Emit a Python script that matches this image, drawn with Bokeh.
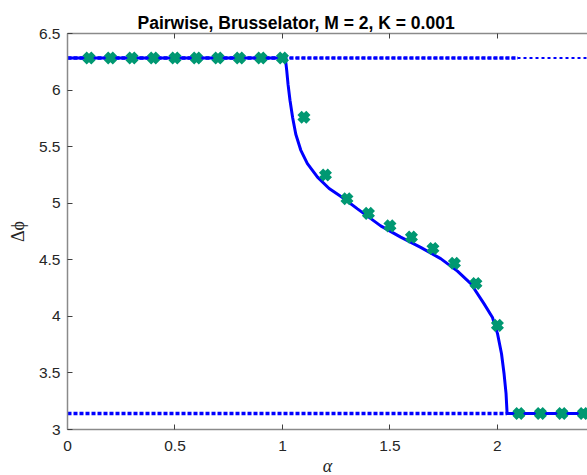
from bokeh.plotting import figure
from bokeh.models import Range1d, LinearAxis, FixedTicker
from bokeh.embed import file_html
from bokeh.resources import INLINE

# ---------------- data ----------------
title_text = "Pairwise, Brusselator, M = 2, K = 0.001"

x_ticks = [0, 0.5, 1, 1.5, 2]
x_tick_labels = ["0", "0.5", "1", "1.5", "2"]
y_ticks = [3, 3.5, 4, 4.5, 5, 5.5, 6, 6.5]
y_tick_labels = ["3", "3.5", "4", "4.5", "5", "5.5", "6", "6.5"]

# simulation points (green crosses)
sim_alpha = [0.1, 0.2, 0.3, 0.4, 0.5, 0.6, 0.7, 0.8, 0.9, 1.0,
             1.1, 1.2, 1.3, 1.4, 1.5, 1.6, 1.7, 1.8, 1.9, 2.0,
             2.1, 2.2, 2.3, 2.4]
sim_dphi = [6.283, 6.283, 6.283, 6.283, 6.283, 6.283, 6.283, 6.283, 6.283, 6.283,
            5.76, 5.25, 5.04, 4.91, 4.80, 4.70, 4.60, 4.47, 4.29, 3.92,
            3.142, 3.142, 3.142, 3.142]

# stable branch (solid)
stable_alpha = [0.0, 1.013, 1.017, 1.020, 1.026, 1.035, 1.047, 1.062, 1.085, 1.116,
                1.163, 1.217, 1.279, 1.349, 1.457, 1.550, 1.643, 1.736, 1.814, 1.876,
                1.938, 1.977, 2.000, 2.019, 2.031, 2.040, 2.045, 2.5]
stable_dphi = [6.283, 6.283, 6.22, 6.17, 6.05, 5.91, 5.76, 5.61, 5.47, 5.35,
               5.23, 5.13, 5.05, 4.95, 4.80, 4.70, 4.61, 4.51, 4.40, 4.29,
               4.11, 3.99, 3.85, 3.67, 3.49, 3.32, 3.142, 3.142]

# unstable branches (dotted)
anti_alpha_a = [0.0, 2.095]
anti_dphi_a = [6.283, 6.283]
anti_alpha_b = [0.0, 2.5]
anti_dphi_b = [6.283, 6.283]
inph_alpha = [0.0, 2.045]
inph_dphi = [3.142, 3.142]

# ---------------- figure ----------------
p = figure(frame_width=520, frame_height=396, output_backend="svg", toolbar_location=None,
           x_range=Range1d(0, 2.419), y_range=Range1d(3, 6.5),
           min_border_left=67, min_border_right=0, min_border_top=33,
           min_border_bottom=30, x_axis_location=None, y_axis_location=None)
p.grid.visible = False
p.outline_line_color = None
p.background_fill_color = "white"
p.border_fill_color = "white"

p.title.text = title_text
p.title.text_font = "Liberation Sans"
p.title.text_font_size = "17.5px"
p.title.text_font_style = "bold"
p.title.text_color = "#000000"
p.title.align = "left"
p.title.offset = 70
p.title.standoff = 2

BLUE = "#0000ff"
GREEN = "#009872"

p.line(anti_alpha_b, anti_dphi_b, line_color=BLUE, line_width=2, line_dash="3 3")
p.line(anti_alpha_a, anti_dphi_a, line_color=BLUE, line_width=3.5, line_dash="4 2")
p.line(inph_alpha, inph_dphi, line_color=BLUE, line_width=3.5, line_dash="4 2")
p.line(stable_alpha, stable_dphi, line_color=BLUE, line_width=3)
p.scatter(sim_alpha, sim_dphi, marker="x", size=12.5, line_width=6, line_color=GREEN)


def style_axis(ax):
    ax.axis_line_color = "#8a8a8a"
    ax.axis_line_width = 1.5
    ax.major_tick_line_color = "#404040"
    ax.major_tick_in = 5
    ax.major_tick_out = 0
    ax.minor_tick_line_color = None
    ax.major_label_text_font = "Liberation Sans"
    ax.major_label_text_font_size = "15.5px"
    ax.major_label_text_color = "#262626"
    ax.axis_label_text_font = "Liberation Serif"
    ax.axis_label_text_font_style = "italic"
    ax.axis_label_text_font_size = "18px"
    ax.axis_label_text_color = "#262626"


xb = LinearAxis(ticker=FixedTicker(ticks=x_ticks),
                major_label_overrides=dict(zip(x_ticks, x_tick_labels)),
                axis_label="α")
style_axis(xb)
xb.major_label_standoff = 11
xb.axis_label_standoff = 2
p.add_layout(xb, "below")

xt = LinearAxis(ticker=FixedTicker(ticks=x_ticks),
                major_label_overrides={t: "" for t in x_ticks})
style_axis(xt)
xt.major_label_standoff = 0
p.add_layout(xt, "above")

yl = LinearAxis(ticker=FixedTicker(ticks=y_ticks),
                major_label_overrides=dict(zip(y_ticks, y_tick_labels)),
                axis_label="Δϕ")
style_axis(yl)
yl.axis_label_text_font_style = "normal"
yl.major_label_standoff = 7
yl.axis_label_standoff = 8
p.add_layout(yl, "left")

open("out.html", "w").write(file_html(p, INLINE))
